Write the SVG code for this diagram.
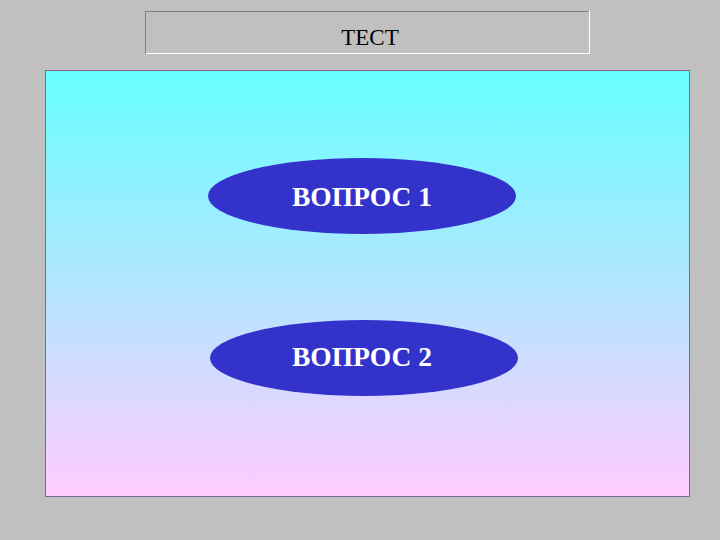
<svg xmlns="http://www.w3.org/2000/svg" width="720" height="540" viewBox="0 0 720 540">
<style>
.q{font-family:"Liberation Serif","Times New Roman",serif;font-weight:bold;font-size:27.5px;fill:#ffffff;text-anchor:middle}
.node{fill:#3333cc}
</style>
<defs>
<linearGradient id="bg" x1="0" y1="0" x2="0" y2="1">
<stop offset="0" stop-color="#66ffff"/>
<stop offset="1" stop-color="#ffccff"/>
</linearGradient>
</defs>
<rect width="720" height="540" fill="#c0c0c0"/>
<g id="title">
<rect x="145.5" y="11.5" width="444" height="42" fill="#c0c0c0" stroke="#808080"/>
<line x1="146" y1="53.5" x2="590" y2="53.5" stroke="#ffffff"/>
<line x1="589.5" y1="11" x2="589.5" y2="54" stroke="#ffffff"/>
<text x="370" y="45" font-family="Liberation Serif,'Times New Roman',serif" font-size="23" text-anchor="middle" fill="#000">ТЕСТ</text>
</g>
<g id="panel">
<rect x="45.5" y="70.5" width="644" height="426" fill="url(#bg)" stroke="#806a8a"/>
</g>
<g id="q1">
<ellipse class="node" cx="362" cy="196" rx="154" ry="38"/>
<text class="q" x="362" y="206">ВОПРОС 1</text>
</g>
<g id="q2">
<ellipse class="node" cx="364" cy="358" rx="154" ry="38"/>
<text class="q" x="362" y="366">ВОПРОС 2</text>
</g>
<g id="connectors"/>
</svg>
